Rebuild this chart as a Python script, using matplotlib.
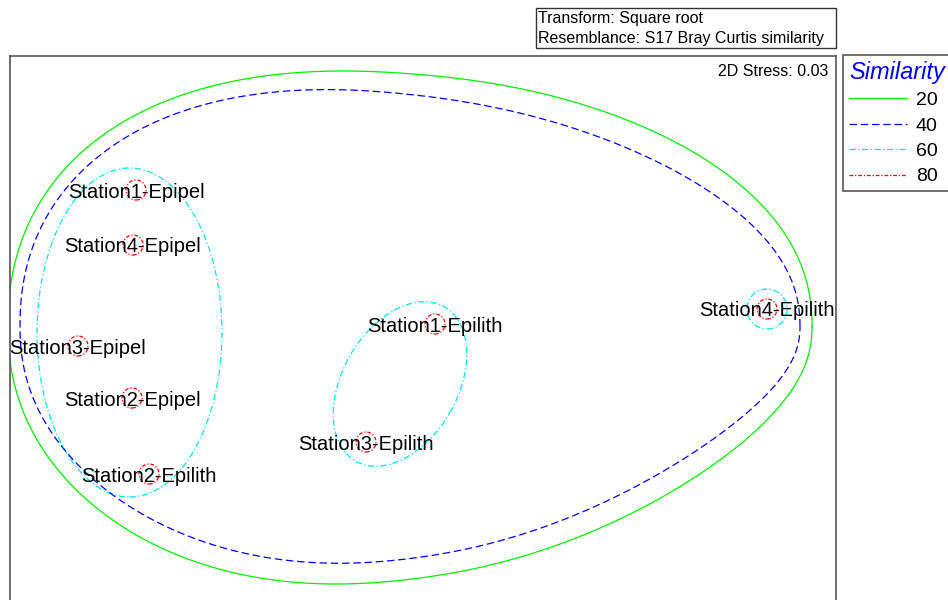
import matplotlib.pyplot as plt
import numpy as np
from matplotlib.lines import Line2D
from matplotlib.patches import Ellipse, Circle, Rectangle

plt.rcParams['font.family'] = ['Liberation Sans', 'DejaVu Sans']

# 2D nMDS configuration
labels = ['Station1-Epipel', 'Station4-Epipel', 'Station3-Epipel', 'Station2-Epipel',
          'Station2-Epilith', 'Station1-Epilith', 'Station3-Epilith', 'Station4-Epilith']
mds_x = [-1.136, -1.148, -1.368, -1.152, -1.084, 0.060, -0.216, 1.388]
mds_y = [0.560, 0.340, -0.064, -0.272, -0.576, 0.024, -0.448, 0.084]

levels = [20, 40, 60, 80]
level_colors = ['#00ee00', '#0000ff', '#00e5ee', '#ff0000']
level_dashes = [None, (6, 3), (5, 2, 1, 2), (3, 1.5, 1, 1.5)]

# cluster outlines: centre x, centre y, half width, half height, squareness,
# taper of the upper half, taper of the lower half
outline_20 = (-0.04, 0.014, 1.608, 1.011, 2.2, (0.12, 0.0), (0.19, 0.14))
outline_40 = (-0.04, 0.014, 1.560, 0.928, 2.2, (0.18, 0.03), (0.21, 0.20))
# 60% groups as ellipses (centre, width, height, angle)
groups_60 = [((-1.162, -0.010), 0.740, 1.316, 0),
             ((-0.080, -0.216), 0.712, 0.460, 60)]
single_60 = [7]
radius_60 = 0.08
radius_80 = 0.04

stress = 0.03


def egg(cx, cy, rx, ry, n, top, bottom, num=600):
    t = np.linspace(0, 2 * np.pi, num)
    u = np.sign(np.cos(t)) * np.abs(np.cos(t)) ** (2 / n)
    v = np.sign(np.sin(t)) * np.abs(np.sin(t)) ** (2 / n)
    a = np.where(v >= 0, top[0], bottom[0])
    b = np.where(v >= 0, top[1], bottom[1])
    taper = 1 - a * u - b * u ** 2
    return cx + rx * u, cy + ry * v * taper


def style(i):
    kw = dict(color=level_colors[i], lw=0.9)
    if level_dashes[i] is None:
        kw['linestyle'] = '-'
    else:
        kw['linestyle'] = (0, level_dashes[i])
    return kw


fig = plt.figure(figsize=(9.48, 6), dpi=100)
ax = fig.add_axes([10 / 948, 0, 826 / 948, 544 / 600])

for i, outline in enumerate([outline_20, outline_40]):
    ex, ey = egg(*outline)
    ax.plot(ex, ey, **style(i))

for (c, w, h, ang) in groups_60:
    ax.add_patch(Ellipse(c, w, h, angle=ang, fill=False, **style(2)))
for j in single_60:
    ax.add_patch(Circle((mds_x[j], mds_y[j]), radius_60, fill=False, **style(2)))

for x, y in zip(mds_x, mds_y):
    ax.add_patch(Circle((x, y), radius_80, fill=False, **style(3)))

for x, y, lab in zip(mds_x, mds_y, labels):
    ax.text(x, y, lab, ha='center', va='center_baseline', fontsize=14.5, color='black')

ax.text(0.991, 0.972, f'2D Stress: {stress:.2f}', transform=ax.transAxes,
        ha='right', va='center', fontsize=11.5)

ax.set_xlim(-1.64, 1.664)
ax.set_ylim(-1.08, 1.096)
ax.set_xticks([])
ax.set_yticks([])
for s in ['left', 'right', 'top']:
    ax.spines[s].set_color('#555555')
    ax.spines[s].set_linewidth(1.2)
ax.spines['bottom'].set_visible(False)

# legend
handles = [Line2D([], [], **style(i)) for i in range(len(levels))]
leg = fig.legend(handles, [str(l) for l in levels], loc='upper left',
                 bbox_to_anchor=(843 / 948, 1 - 55 / 600), fontsize=14,
                 title='Similarity', title_fontproperties={'size': 17, 'style': 'italic'},
                 alignment='left', fancybox=False, framealpha=1, edgecolor='#555555',
                 handlelength=3.0, handletextpad=0.45, labelspacing=0.4,
                 borderpad=0.3, borderaxespad=0)
leg.get_title().set_color('#0000ff')
leg.get_frame().set_linewidth(1.2)

# transform / resemblance box
fig.add_artist(Rectangle((536 / 948, 1 - 48 / 600), 300 / 948, 40 / 600,
                         transform=fig.transFigure, fill=False,
                         edgecolor='#333333', lw=1.0))
fig.text(538 / 948, 1 - 18 / 600, 'Transform: Square root', fontsize=11.5, va='center')
fig.text(538 / 948, 1 - 38 / 600, 'Resemblance: S17 Bray Curtis similarity',
         fontsize=11.5, va='center')

fig.savefig('out.png', dpi=100)
plt.close(fig)
